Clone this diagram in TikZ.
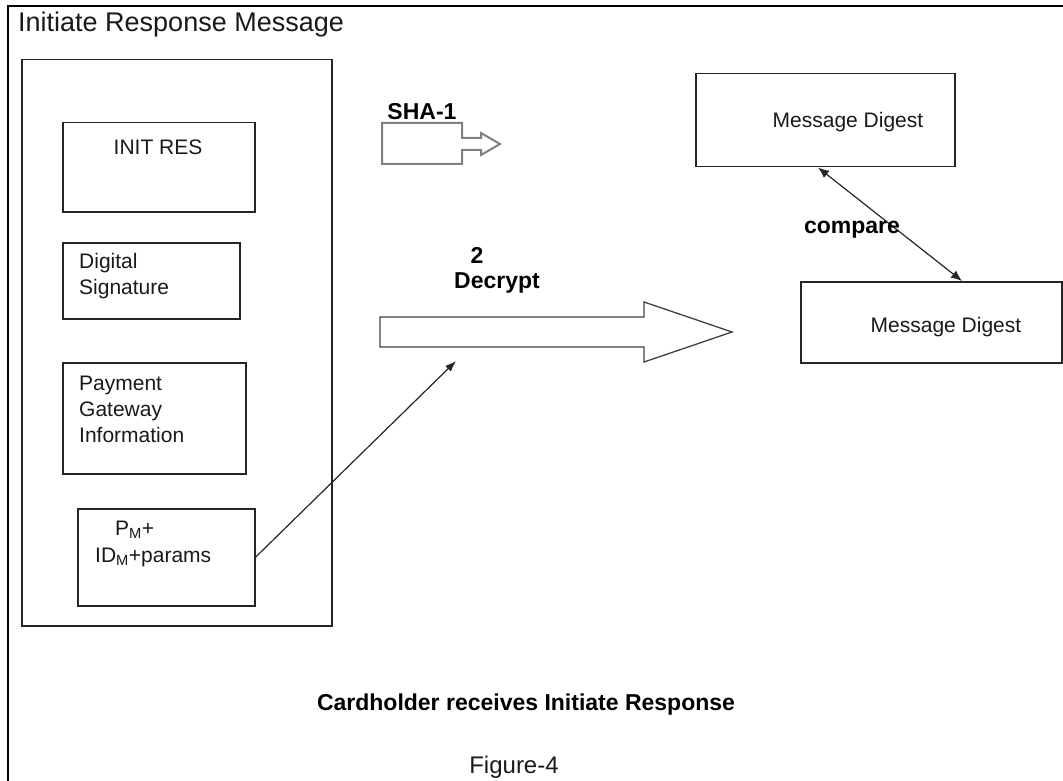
\documentclass[tikz,border=0pt]{standalone}
\usepackage{fontspec}
\setmainfont{Liberation Sans}
\usetikzlibrary{arrows.meta,calc}
\begin{document}
\begin{tikzpicture}[x=1pt,y=-1pt,
  box/.style={draw=black!85,line width=1.5pt,rectangle,inner sep=0pt,anchor=north west},
  txt/.style={inner sep=0pt,text=black!90,font=\fontsize{21}{26}\selectfont},
  btxt/.style={inner sep=0pt,text=black,font=\fontsize{23}{28}\selectfont\bfseries},
  blockarrow/.style={line width=1.3pt,draw=black!75,line join=miter},
  sharrow/.style={line width=2pt,draw=black!50,line join=miter},
  conn/.style={line width=1.2pt,draw=black!85}]
\useasboundingbox (0,0) rectangle (1063,781);
% outer frame
\draw[line width=2pt] (1063,6) -- (8,6) -- (8,781);
\node[inner sep=0pt,anchor=base west,text=black!90,font=\fontsize{27}{31}\selectfont] (title) at (18,32) {Initiate Response Message};
% left container
\node[box,minimum width=310pt,minimum height=566pt] (outer) at (21,59) {};
\node[box,minimum width=192pt,minimum height=89pt] (init) at (62,122) {};
\node[txt] (initt) at (158,147) {INIT RES};
\node[box,minimum width=177pt,minimum height=76pt] (ds) at (62,242) {};
\node[txt,anchor=west,align=left] (dst) at (79,276) {Digital\\Signature};
\node[box,minimum width=183pt,minimum height=111pt] (pg) at (62,362) {};
\node[txt,anchor=west,align=left] (pgt) at (79,409) {Payment\\Gateway\\Information};
\node[box,minimum width=177pt,minimum height=97pt] (pm) at (77,508) {};
\node[txt,anchor=base west] (pmt1) at (115,535) {P\textsubscript{M}+};
\node[txt,anchor=base west] (pmt2) at (95,562) {ID\textsubscript{M}+params};
% SHA-1 arrow
\draw[sharrow] (382,123) -- (462,123) -- (462,138) -- (481,138) -- (481,133) -- (500,144)
  -- (481,155) -- (481,150) -- (462,150) -- (462,164) -- (382,164) -- cycle;
\node[btxt] (sha) at (422,112) {SHA-1};
% Decrypt arrow
\draw[blockarrow] (380,317) -- (644,317) -- (644,302) -- (732,332) -- (644,362)
  -- (644,347) -- (380,347) -- cycle;
\node[btxt] (two) at (477,255) {2};
\node[btxt] (dec) at (497,283) {Decrypt};
\coordinate (dtip) at (456,361);
\draw[conn,-{Latex[length=11pt,width=8pt]}] (pm.east) -- (dtip);
% message digests
\node[box,minimum width=259pt,minimum height=93pt] (md1) at (695,73) {};
\node[txt] (md1t) at (848,122) {Message Digest};
\node[box,minimum width=261pt,minimum height=81pt] (md2) at (800,281) {};
\node[txt] (md2t) at (946,327) {Message Digest};
\draw[conn,{Latex[length=11pt,width=9pt]}-{Latex[length=11pt,width=9pt]}]
  ($(md1.south west)+(123,0)$) -- ($(md2.north west)+(162,0)$);
\node[btxt] (cmp) at (852,230) {compare};
% captions
\node[btxt] (cap) at (526,705) {Cardholder receives Initiate Response};
\node[inner sep=0pt,text=black!90,font=\fontsize{24}{28}\selectfont] (fig) at (514,767) {Figure-4};
\end{tikzpicture}
\end{document}
